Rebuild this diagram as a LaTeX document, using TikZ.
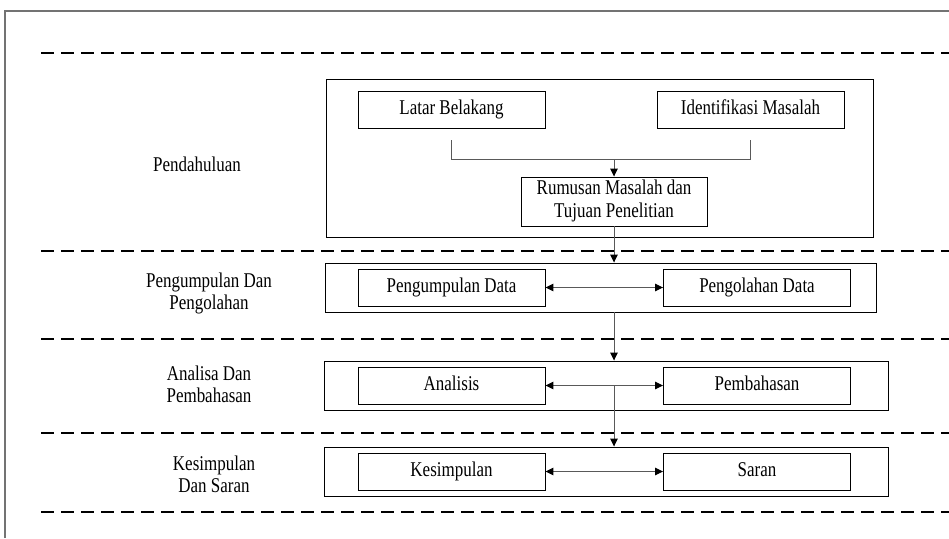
\documentclass[tikz,border=0pt]{standalone}
\usepackage{fontspec}
\usepackage{graphicx}
\setmainfont{Liberation Serif}
\usetikzlibrary{arrows.meta,calc}
\newcommand{\stx}[1]{\scalebox{0.97}[1.2]{\begin{tabular}{@{}c@{}}#1\end{tabular}}}
\begin{document}
\begin{tikzpicture}[x=1pt,y=-1pt,
  txt/.style={font=\fontsize{17.5}{19}\selectfont, align=center},
  box/.style={txt, draw=black, line width=0.9pt, minimum width=187pt, minimum height=37pt, inner sep=0pt},
  outerbox/.style={draw=black, line width=0.9pt, inner sep=0pt},
  lbl/.style={txt},
  sep/.style={draw=black, line width=1.6pt, dash pattern=on 13pt off 7pt},
  conn/.style={draw=black!65, line width=1pt},
  tip/.tip={Triangle[length=8pt,width=7.5pt,fill=black,color=black]},
  arr/.style={conn, -tip},
  darr/.style={conn, tip-tip}]
\useasboundingbox (0,0) rectangle (949,538);
\fill[white] (0,0) rectangle (949,538);
% frame
\draw[draw=black!55, line width=1.5pt] (5,538) -- (5,11) -- (949,11);
% separators
\foreach \yy in {53,251,339,433,512} \draw[sep] (41,\yy) -- (949,\yy);
% outer boxes
\node[outerbox, minimum width=547pt, minimum height=158pt] (o1) at (599.5,158) {};
\node[outerbox, minimum width=551pt, minimum height=49pt] (o2) at (600.5,287.5) {};
\node[outerbox, minimum width=564pt, minimum height=49pt] (o3) at (606,385.5) {};
\node[outerbox, minimum width=564pt, minimum height=49pt] (o4) at (606,471.5) {};
% inner boxes
\node[box] (lb) at (451.5,109.5) {\stx{Latar Belakang}};
\node[box] (im) at (750.5,109.5) {\stx{Identifikasi Masalah}};
\node[box, minimum width=186pt, minimum height=49pt] (rm) at (614,201.5) {\stx{Rumusan Masalah dan\\Tujuan Penelitian}};
\node[box] (pd) at (451.5,287.5) {\stx{Pengumpulan Data}};
\node[box] (ol) at (757,287.5) {\stx{Pengolahan Data}};
\node[box] (an) at (451.5,385.5) {\stx{Analisis}};
\node[box] (pb) at (757,385.5) {\stx{Pembahasan}};
\node[box] (ks) at (451.5,471.5) {\stx{Kesimpulan}};
\node[box] (sr) at (757,471.5) {\stx{Saran}};
% left labels
\node[lbl] (l1) at (197,167) {\stx{Pendahuluan}};
\node[lbl] (l2) at (209,294) {\stx{Pengumpulan Dan\\Pengolahan}};
\node[lbl] (l3) at (209,387) {\stx{Analisa Dan\\Pembahasan}};
\node[lbl] (l4) at (214,477) {\stx{Kesimpulan\\Dan Saran}};
% bracket
\path (lb.south) ++(0,12) coordinate (bl);
\path (im.south) ++(0,12) coordinate (br);
\draw[conn] (bl) -- ++(0,19) -| (br);
\coordinate (bm) at ($(bl)+(0,19)$);
\draw[arr] (rm.north |- bm) -- (rm.north);
% vertical flow
\draw[arr] (rm.south) -- (rm.south |- o2.north);
\draw[arr] (rm.south |- o2.south) -- (rm.south |- o3.north);
\coordinate (am) at (rm.south |- an.east);
\draw[arr] (am) -- (am |- o4.north);
% double arrows
\draw[darr] (pd.east) -- (ol.west);
\draw[darr] (an.east) -- (pb.west);
\draw[darr] (ks.east) -- (sr.west);
\end{tikzpicture}
\end{document}
